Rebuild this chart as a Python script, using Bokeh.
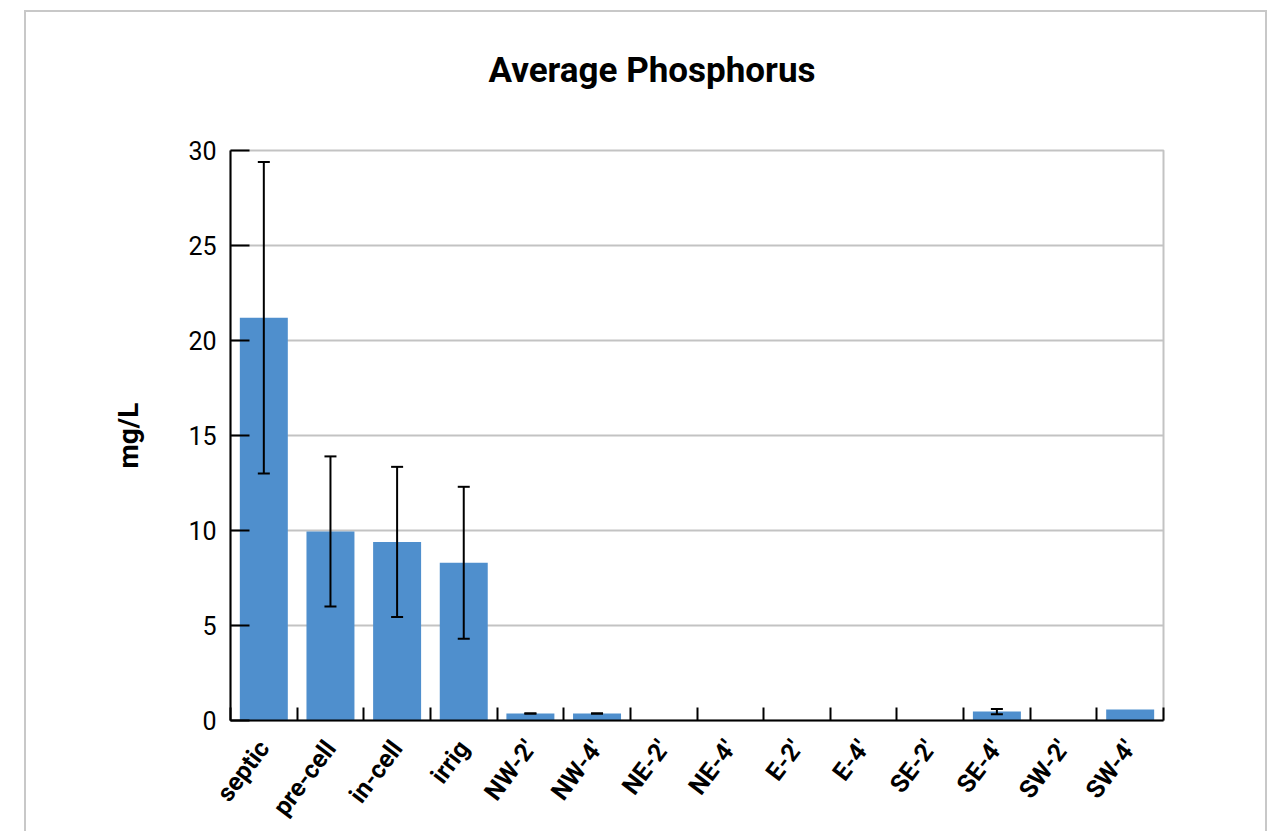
import math
from bokeh.plotting import figure
from bokeh.models import Range1d, FixedTicker, ColumnDataSource, Whisker, TeeHead, Title
from bokeh.embed import file_html
from bokeh.resources import INLINE

categories = ["septic", "pre-cell", "in-cell", "irrig", "NW-2′", "NW-4′", "NE-2′",
              "NE-4′", "E-2′", "E-4′", "SE-2′", "SE-4′", "SW-2′", "SW-4′"]
means = [21.2, 9.95, 9.4, 8.3, 0.37, 0.37, 0, 0, 0, 0, 0, 0.47, 0, 0.58]
errors = [8.2, 3.95, 3.95, 4.0, 0.0, 0.0, None, None, None, None, None, 0.14, None, None]
y_ticks = [0, 5, 10, 15, 20, 25, 30]
title_text = "Average Phosphorus"

FONT = "Roboto"
BAR = "#4f8fcd"
GRID = "#c3c3c3"

xs = [i + 0.5 for i in range(len(categories))]

p = figure(width=1243, height=821, x_range=Range1d(0, len(categories)), y_range=Range1d(0, 30),
           output_backend="svg", toolbar_location=None,
           min_border_left=204, min_border_right=106, min_border_top=138, min_border_bottom=113)
p.margin = (10, 0, 0, 24)
p.styles = {"border-top": "2px solid #c8c8c8", "border-left": "2px solid #c8c8c8",
            "border-right": "2px solid #c8c8c8"}

p.title.text = title_text
p.title.align = "left"
p.title.offset = 258
p.title.text_font = FONT
p.title.text_font_size = "35px"
p.title.text_font_style = "bold"
p.title.text_color = "black"
p.title.standoff = 10

# empty spacer between the title and the plot area
p.add_layout(Title(text=" ", text_font_size="10px", standoff=42), "above")

p.vbar(x=xs, top=means, width=0.72, color=BAR, line_color=None)

wx, wu, wl = [], [], []
for x, m, e in zip(xs, means, errors):
    if e is not None:
        wx.append(x); wu.append(m + e); wl.append(m - e)
wsrc = ColumnDataSource(dict(x=wx, upper=wu, lower=wl))
w = Whisker(source=wsrc, base="x", upper="upper", lower="lower", line_width=2, line_color="black",
            upper_head=TeeHead(size=12, line_width=2, line_color="black"),
            lower_head=TeeHead(size=12, line_width=2, line_color="black"))
w.level = "overlay"
p.add_layout(w)

# y axis
ya = p.yaxis[0]
ya.ticker = FixedTicker(ticks=y_ticks)
ya.major_tick_in = 19
ya.major_tick_out = 0
ya.minor_tick_line_color = None
ya.axis_line_width = 2
ya.axis_line_color = "black"
ya.major_tick_line_width = 2
ya.major_tick_line_color = "black"
ya.major_label_text_font = FONT
ya.major_label_text_font_size = "25px"
ya.major_label_text_color = "black"
ya.major_label_standoff = 14
ya.axis_label = "mg/L"
ya.axis_label_text_font = FONT
ya.axis_label_text_font_size = "28px"
ya.axis_label_text_font_style = "bold"
ya.axis_label_text_color = "black"
ya.axis_label_standoff = 40

# x axis
xa = p.xaxis[0]
xa.ticker = FixedTicker(ticks=xs, minor_ticks=list(range(len(categories) + 1)))
xa.major_label_overrides = {x: c for x, c in zip(xs, categories)}
xa.major_tick_line_color = None
xa.major_tick_in = 0
xa.major_tick_out = 0
xa.minor_tick_in = 13
xa.minor_tick_out = 0
xa.minor_tick_line_color = "black"
xa.minor_tick_line_width = 2
xa.axis_line_width = 2
xa.axis_line_color = "black"
xa.major_label_orientation = math.radians(53)
xa.major_label_text_font = FONT
xa.major_label_text_font_size = "25px"
xa.major_label_text_font_style = "bold"
xa.major_label_text_color = "black"
xa.major_label_standoff = 23

p.xgrid.visible = False
p.ygrid.grid_line_color = GRID
p.ygrid.grid_line_width = 2
p.outline_line_color = GRID
p.outline_line_width = 2
p.background_fill_color = "white"
p.border_fill_color = "white"

open("out.html", "w").write(file_html(p, INLINE))
